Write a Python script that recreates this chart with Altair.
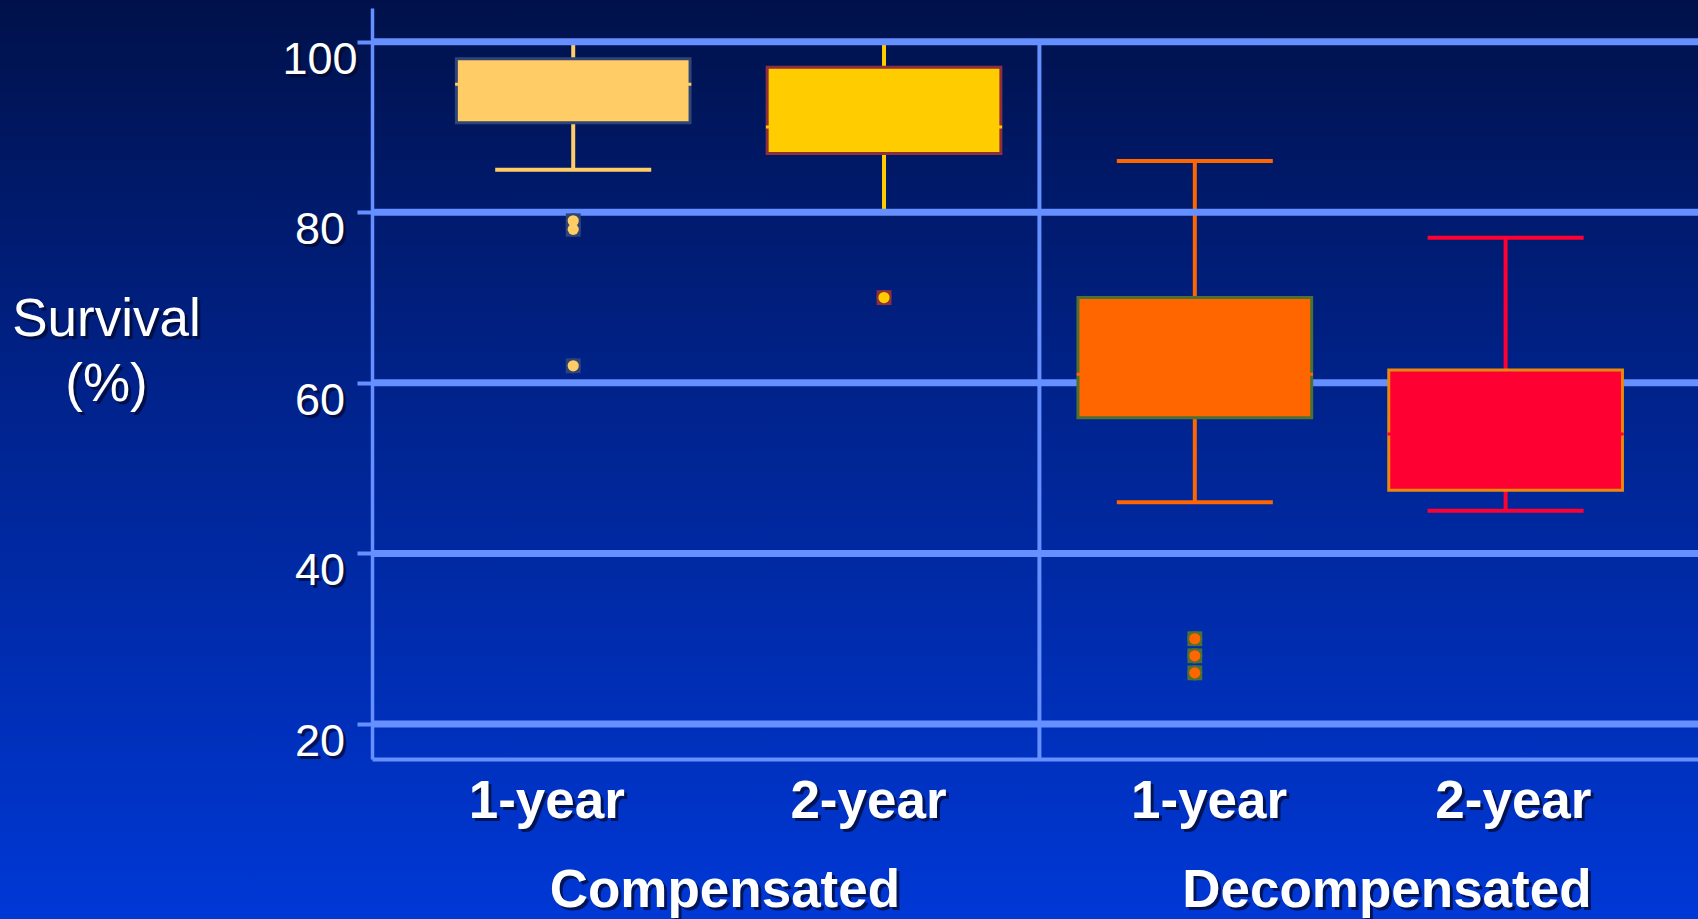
import altair as alt
import pandas as pd

# Survival distributions per cirrhosis stage and follow-up period
groups = ["Compensated", "Compensated", "Decompensated", "Decompensated"]
periods = ["1-year", "2-year", "1-year", "2-year"]
lower_whisker = [85, 80, 46, 45]
q1 = [90.5, 86.9, 55.9, 47.4]
median = [95, 90, 61, 54]
q3 = [98, 97, 70, 61.5]
upper_whisker = [100, 100, 86, 77]

# outliers: index of the box they belong to, and their value
outlier_box = [0, 0, 0, 1, 2, 2, 2]
outlier_value = [79, 78, 62, 70, 30, 28, 26]

y_ticks = [20, 40, 60, 80, 100]
group_names = ["Compensated", "Decompensated"]

# styling
box_fill = ["#FFCC66", "#FFCC00", "#FF6600", "#FF0033"]
box_edge = ["#2E4576", "#8F2F3A", "#4E7032", "#E8890C"]
GRID = "#6690FF"
FONT = "Liberation Sans"
SHADOW = "#000A30"

# layout: plot area in pixels and where the category labels sit (x units)
W, H = 1326, 751
PAD = {"left": 372, "top": 8, "right": 0, "bottom": 160}
period_label_x = [0.915, 1.950, 3.046, 4.025]
group_label_x = [1.488, 3.618]
BOX_HALF, CAP_HALF, MED_HALF = 0.376, 0.251, 0.38

xscale = alt.Scale(domain=[0.3526, 4.619], nice=False, zero=False)
yscale = alt.Scale(domain=[15.9, 103.95], nice=False, zero=False)
xaxis = alt.Axis(labels=False, ticks=False, grid=False, domainColor=GRID,
                 domainWidth=4, zindex=1, title=None)
yaxis = alt.Axis(values=y_ticks, labels=False, grid=False, ticks=True,
                 tickSize=15, tickWidth=4, tickColor=GRID, domainColor=GRID,
                 domainWidth=3.5, zindex=1, title=None)

slots = [i + 1 for i in range(len(periods))]
boxes = pd.DataFrame({
    "group": groups, "period": periods, "slot": slots,
    "low": lower_whisker, "q1": q1, "med": median, "q3": q3, "high": upper_whisker,
    "fill": box_fill, "edge": box_edge,
})
boxes["lo"] = boxes["slot"] - BOX_HALF
boxes["hi"] = boxes["slot"] + BOX_HALF
boxes["cap_lo"] = boxes["slot"] - CAP_HALF
boxes["cap_hi"] = boxes["slot"] + CAP_HALF
boxes["med_lo"] = boxes["slot"] - MED_HALF
boxes["med_hi"] = boxes["slot"] + MED_HALF

caps = pd.concat([
    boxes[["slot", "cap_lo", "cap_hi", "fill"]].assign(v=boxes["low"]),
    boxes[["slot", "cap_lo", "cap_hi", "fill"]].assign(v=boxes["high"]),
])

outliers = pd.DataFrame({
    "slot": [slots[b] for b in outlier_box],
    "v": outlier_value,
    "fill": [box_fill[b] for b in outlier_box],
    "edge": [box_edge[b] for b in outlier_box],
})

def X(field):
    return alt.X(field, type="quantitative", scale=xscale, axis=xaxis)

def Y(field):
    return alt.Y(field, type="quantitative", scale=yscale, axis=yaxis)

one = pd.DataFrame({"k": [0]})

background = alt.Chart(one).mark_rect(
    fill=alt.LinearGradient(
        gradient="linear", x1=0, x2=0, y1=0, y2=1,
        stops=[alt.GradientStop(color="#00114A", offset=0),
               alt.GradientStop(color="#00228A", offset=0.42),
               alt.GradientStop(color="#0038D6", offset=1)],
    )
).encode(
    x=alt.value(-PAD["left"]), x2=alt.value(W + PAD["right"]),
    y=alt.value(-PAD["top"]), y2=alt.value(H + PAD["bottom"]),
)

whiskers = alt.Chart(boxes).mark_rule(strokeWidth=4).encode(
    x=X("slot"), y=Y("low"), y2="high",
    color=alt.Color("fill:N", scale=None),
)

whisker_caps = alt.Chart(caps).mark_rule(strokeWidth=4).encode(
    x=X("cap_lo"), x2="cap_hi", y=Y("v"),
    color=alt.Color("fill:N", scale=None),
)

grid = alt.Chart(pd.DataFrame({"t": y_ticks})).mark_rule(
    strokeWidth=7, color=GRID
).encode(y=Y("t"), x=alt.value(0), x2=alt.value(W))

separator = alt.Chart(pd.DataFrame({"s": [2.5], "top": [100]})).mark_rule(
    strokeWidth=4, color=GRID
).encode(x=X("s"), y=Y("top"), y2=alt.value(H))

box_rects = alt.Chart(boxes).mark_rect(strokeWidth=3).encode(
    x=X("lo"), x2="hi", y=Y("q1"), y2="q3",
    fill=alt.Fill("fill:N", scale=None),
    stroke=alt.Stroke("edge:N", scale=None),
)

medians = alt.Chart(boxes).mark_rule(strokeWidth=3).encode(
    x=X("med_lo"), x2="med_hi", y=Y("med"),
    color=alt.Color("fill:N", scale=None),
)

out_square = alt.Chart(outliers).mark_point(
    shape="square", filled=True, size=220, opacity=1
).encode(x=X("slot"), y=Y("v"), color=alt.Color("edge:N", scale=None))

out_ring = alt.Chart(outliers).mark_point(
    shape="circle", filled=True, size=230, opacity=1
).encode(x=X("slot"), y=Y("v"), color=alt.Color("edge:N", scale=None))

out_dot = alt.Chart(outliers).mark_point(
    shape="circle", filled=True, size=125, opacity=1
).encode(x=X("slot"), y=Y("v"), color=alt.Color("fill:N", scale=None))


def shadowed(make):
    """Draw a text layer twice: a dark offset copy underneath, white on top."""
    return [make(SHADOW, 3, 3, 0.75), make("white", 0, 0, 1)]


tick_df = pd.DataFrame({"t": y_ticks, "label": [str(t) for t in y_ticks]})
period_df = pd.DataFrame({"x": period_label_x, "label": periods})
group_df = pd.DataFrame({"x": group_label_x, "label": group_names})


def tick_text(c, dx, dy, op):
    return alt.Chart(tick_df).mark_text(
        font=FONT, fontSize=45, align="center", baseline="alphabetic",
        color=c, dx=dx, dy=32 + dy, opacity=op,
    ).encode(y=Y("t"), x=alt.value(-52), text="label:N")


def period_text(c, dx, dy, op):
    return alt.Chart(period_df).mark_text(
        font=FONT, fontSize=53, fontWeight="bold", align="center",
        baseline="alphabetic", color=c, dx=dx, dy=dy, opacity=op,
    ).encode(x=X("x"), y=alt.value(810), text="label:N")


def group_text(c, dx, dy, op):
    return alt.Chart(group_df).mark_text(
        font=FONT, fontSize=53, fontWeight="bold", align="center",
        baseline="alphabetic", color=c, dx=dx, dy=dy, opacity=op,
    ).encode(x=X("x"), y=alt.value(898.5), text="label:N")


def title_text(label, ypix):
    def make(c, dx, dy, op):
        return alt.Chart(one).mark_text(
            font=FONT, fontSize=53, align="center", baseline="alphabetic",
            color=c, dx=dx, dy=dy, opacity=op,
        ).encode(x=alt.value(-265.5), y=alt.value(ypix), text=alt.value(label))
    return make


layers = [background, whiskers, whisker_caps, grid, separator, box_rects,
          medians, out_ring, out_square, out_dot]
layers += shadowed(tick_text)
layers += shadowed(period_text)
layers += shadowed(group_text)
layers += shadowed(title_text("Survival", 328))
layers += shadowed(title_text("(%)", 392.5))

chart = alt.layer(*layers).properties(
    width=W, height=H, padding=PAD,
    autosize=alt.AutoSizeParams(type="none"),
    background="#0026A0",
).configure_view(stroke=None)

chart.save("out.html", embed_options={"renderer": "svg", "actions": False})
